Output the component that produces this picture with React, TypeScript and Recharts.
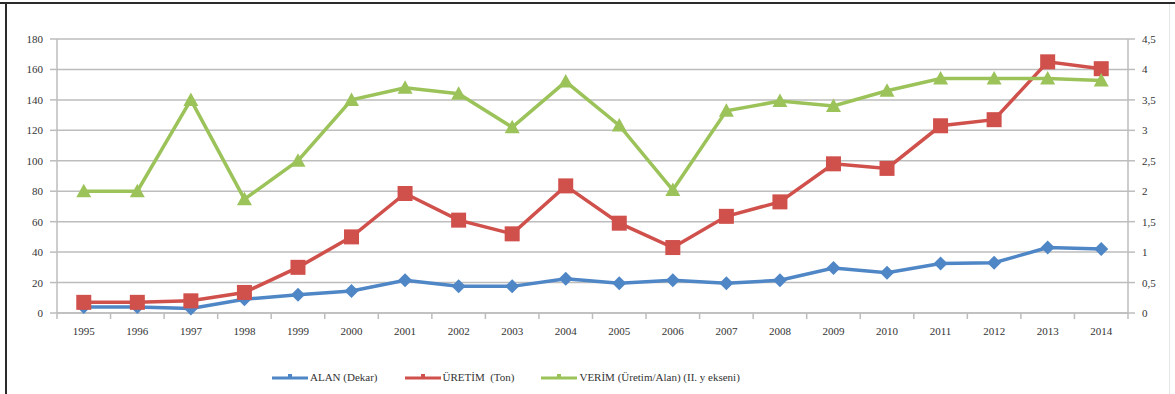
import React from 'react';
import { LineChart, Line, XAxis, YAxis, CartesianGrid, Legend } from 'recharts';

const years = ['1995', '1996', '1997', '1998', '1999', '2000', '2001', '2002', '2003', '2004',
    '2005', '2006', '2007', '2008', '2009', '2010', '2011', '2012', '2013', '2014'];
const alan = [4, 4, 3, 9, 12, 14.5, 21.5, 17.5, 17.5, 22.5, 19.5, 21.5, 19.5, 21.5, 29.5, 26.5, 32.5, 33, 43, 42];
const uretim = [7, 7, 8, 13.5, 30, 50, 78.5, 61, 52, 83.5, 59, 43, 63.5, 73, 98, 95, 123, 127, 165, 160.5];
const verim = [2, 2, 3.5, 1.87, 2.5, 3.5, 3.7, 3.6, 3.05, 3.8, 3.08, 2.02, 3.32, 3.48, 3.4, 3.65, 3.85, 3.85, 3.85, 3.82];
const leftTicks = [0, 20, 40, 60, 80, 100, 120, 140, 160, 180];
const rightTicks = [0, 0.5, 1, 1.5, 2, 2.5, 3, 3.5, 4, 4.5];

const seriesNames = ['ALAN (Dekar)', 'ÜRETİM  (Ton)', 'VERİM (Üretim/Alan) (II. y ekseni)'];

const BLUE = '#4F86C6';
const RED = '#D0504C';
const GREEN = '#9BC35A';
const GRID = '#bdbdbd';
const TEXT = '#333';
const FONT = '"Liberation Serif", "Times New Roman", "DejaVu Serif", serif';

const data = years.map((y, i) => ({ year: y, alan: alan[i], uretim: uretim[i], verim: verim[i] }));

const Diamond = (props: any) => {
    const { cx, cy } = props;
    if (cx == null || cy == null) return null;
    const r = 7;
    return <path d={`M${cx},${cy - r}L${cx + r},${cy}L${cx},${cy + r}L${cx - r},${cy}Z`} fill={BLUE} />;
};

const Square = (props: any) => {
    const { cx, cy } = props;
    if (cx == null || cy == null) return null;
    const r = 7.5;
    return <rect x={cx - r} y={cy - r} width={r * 2} height={r * 2} fill={RED} />;
};

const Triangle = (props: any) => {
    const { cx, cy } = props;
    if (cx == null || cy == null) return null;
    const r = 7.5;
    return <path d={`M${cx},${cy - r}L${cx + r},${cy + r * 0.8}L${cx - r},${cy + r * 0.8}Z`} fill={GREEN} />;
};

const YearTick = (props: any) => {
    const { x, y, payload, index, width, visibleTicksCount } = props;
    const band = width / visibleTicksCount;
    const left = x - band / 2;
    return (
        <g>
            <line x1={left} y1={313} x2={left} y2={319} stroke={GRID} strokeWidth={1.5} />
            {index === visibleTicksCount - 1 && (
                <line x1={left + band} y1={313} x2={left + band} y2={319} stroke={GRID} strokeWidth={1.5} />
            )}
            <text x={x} y={y} dy={14} textAnchor="middle" fill={TEXT} fontSize={11} fontFamily={FONT}>
                {payload.value}
            </text>
        </g>
    );
};

const ValueTick = (props: any) => {
    const { x, y, payload, anchor, fmt } = props;
    return (
        <text x={x} y={y} dy={4} textAnchor={anchor} fill={TEXT} fontSize={11} fontFamily={FONT}>
            {fmt ? fmt(payload.value) : payload.value}
        </text>
    );
};

const commaFmt = (v: number) => String(v).replace('.', ',');

const legendColors = [BLUE, RED, GREEN];

const LegendContent = () => (
    <div style={{ display: 'flex', alignItems: 'center', fontFamily: FONT, fontSize: 11, color: TEXT }}>
        {seriesNames.map((name, i) => (
            <div key={name} style={{ display: 'flex', alignItems: 'center', marginRight: 27 }}>
                <svg width={36} height={10} style={{ marginRight: 2 }}>
                    <line x1={0} y1={6} x2={36} y2={6} stroke={legendColors[i]} strokeWidth={3} />
                    <rect x={16} y={2} width={4} height={4} fill={legendColors[i]} />
                </svg>
                <span style={{ whiteSpace: 'pre' }}>{name}</span>
            </div>
        ))}
    </div>
);

export default function App() {
    return (
        <div style={{ position: 'absolute', left: 0, top: 0, width: 1175, height: 394, background: '#fff', overflow: 'hidden' }}>
            <div style={{ position: 'absolute', left: 0, top: 2, width: 1175, height: 2, background: '#2a2a2a' }} />
            <div style={{ position: 'absolute', left: 5, top: 2, width: 2, height: 392, background: '#2a2a2a' }} />
            <div style={{ position: 'absolute', left: 1169, top: 4, width: 1, height: 390, background: '#e6e6e6' }} />
            <LineChart
                width={1175}
                height={394}
                data={data}
                margin={{ top: 39, right: 7, left: 0, bottom: 51 }}
                style={{ position: 'absolute', left: 0, top: 0 }}
            >
                <CartesianGrid vertical={false} stroke={GRID} strokeWidth={1.5} yAxisId="left" />
                <XAxis
                    dataKey="year"
                    scale="band"
                    height={30}
                    axisLine={{ stroke: GRID, strokeWidth: 1.5 }}
                    tickLine={false}
                    tick={<YearTick />}
                    interval={0}
                />
                <YAxis
                    yAxisId="left"
                    domain={[0, 180]}
                    ticks={leftTicks}
                    width={57}
                    axisLine={{ stroke: GRID, strokeWidth: 1.5 }}
                    tickLine={{ stroke: GRID, strokeWidth: 1.5 }}
                    tickSize={7}
                    tickMargin={7}
                    tick={<ValueTick anchor="end" />}
                    interval={0}
                />
                <YAxis
                    yAxisId="right"
                    orientation="right"
                    domain={[0, 4.5]}
                    ticks={rightTicks}
                    width={40}
                    axisLine={{ stroke: GRID, strokeWidth: 1.5 }}
                    tickLine={{ stroke: GRID, strokeWidth: 1.5 }}
                    tickSize={7}
                    tickMargin={7}
                    tick={<ValueTick anchor="start" fmt={commaFmt} />}
                    interval={0}
                />
                <Legend
                    verticalAlign="middle"
                    align="center"
                    layout="horizontal"
                    content={<LegendContent />}
                    wrapperStyle={{ top: 371, left: 272, width: 600 }}
                />
                <Line
                    yAxisId="left"
                    dataKey="alan"
                    name={seriesNames[0]}
                    stroke={BLUE}
                    strokeWidth={3.5}
                    dot={<Diamond />}
                    activeDot={false}
                    isAnimationActive={false}
                />
                <Line
                    yAxisId="left"
                    dataKey="uretim"
                    name={seriesNames[1]}
                    stroke={RED}
                    strokeWidth={3.5}
                    dot={<Square />}
                    activeDot={false}
                    isAnimationActive={false}
                />
                <Line
                    yAxisId="right"
                    dataKey="verim"
                    name={seriesNames[2]}
                    stroke={GREEN}
                    strokeWidth={3.5}
                    dot={<Triangle />}
                    activeDot={false}
                    isAnimationActive={false}
                />
            </LineChart>
        </div>
    );
}
